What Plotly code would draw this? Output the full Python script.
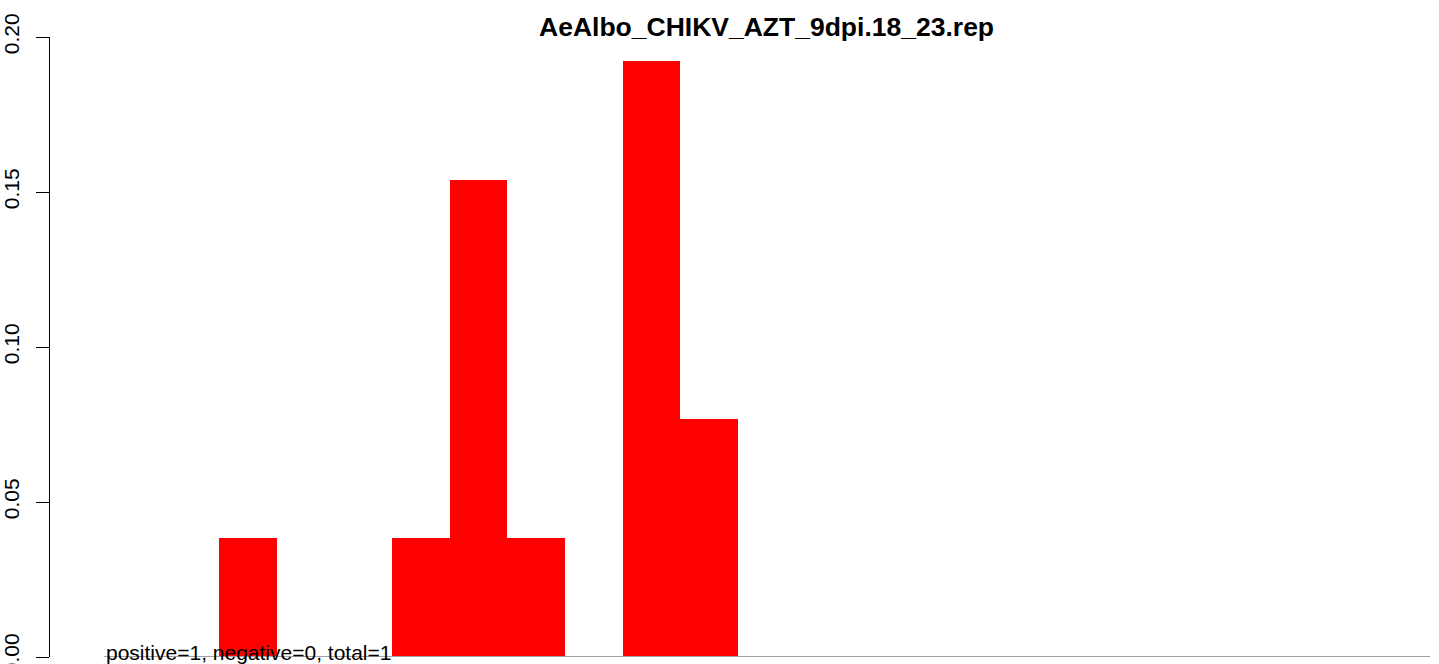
import plotly.graph_objects as go

# Data
title_text = "AeAlbo_CHIKV_AZT_9dpi.18_23.rep"
bins = list(range(23))
counts = [0, 0, 1, 0, 0, 1, 4, 1, 0, 5, 2, 0, 0, 0, 0, 0, 0, 0, 0, 0, 0, 0, 0]
total_count = 26
values = [c / total_count for c in counts]
y_ticks = [0.00, 0.05, 0.10, 0.15, 0.20]
y_tick_labels = ["0.00", "0.05", "0.10", "0.15", "0.20"]
note_text = "positive=1, negative=0, total=1"

FONT = "Liberation Sans, Arial, Helvetica, sans-serif"

fig = go.Figure()
fig.add_trace(go.Bar(
    x=[b + 0.5 for b in bins],
    y=values,
    width=1,
    marker=dict(color="#ff0000", line=dict(width=0)),
    hoverinfo="y",
))

fig.add_shape(type="line", xref="x", yref="y", x0=0, x1=len(bins), y0=0, y1=0,
              line=dict(color="#a3a3a3", width=2), layer="above")

fig.add_annotation(xref="x", yref="y", x=0, y=0, text=note_text, showarrow=False,
                   xanchor="left", yanchor="bottom", yshift=-9,
                   font=dict(family=FONT, size=21, color="black"))

fig.add_annotation(xref="x", yref="paper", x=len(bins) / 2, y=1.016, text="<b>" + title_text + "</b>",
                   showarrow=False, xanchor="center", yanchor="middle",
                   font=dict(family=FONT, size=26.5, color="black"))

fig.update_layout(
    width=1439, height=664,
    margin=dict(l=50, r=0, t=37, b=7, pad=0, autoexpand=False),
    paper_bgcolor="white", plot_bgcolor="white",
    showlegend=False, bargap=0,
    font=dict(family=FONT, size=21, color="black"),
    xaxis=dict(range=[-0.931, 23.154], showgrid=False, zeroline=False, showline=False,
               showticklabels=False, ticks="", automargin=False),
    yaxis=dict(range=[0, 0.2], showgrid=False, zeroline=False, showline=True,
               linecolor="black", linewidth=1, ticks="outside", ticklen=13, tickwidth=1,
               tickcolor="black", tickvals=y_ticks, ticktext=y_tick_labels, tickangle=-90,
               automargin=False, ticklabelstandoff=9, ticklabeloverflow="allow",
               tickfont=dict(family=FONT, size=21, color="black")),
)

fig.write_html(
    "out.html",
    config={"displayModeBar": False},
    post_script="document.body.style.margin='0';document.body.style.overflow='hidden';",
)
